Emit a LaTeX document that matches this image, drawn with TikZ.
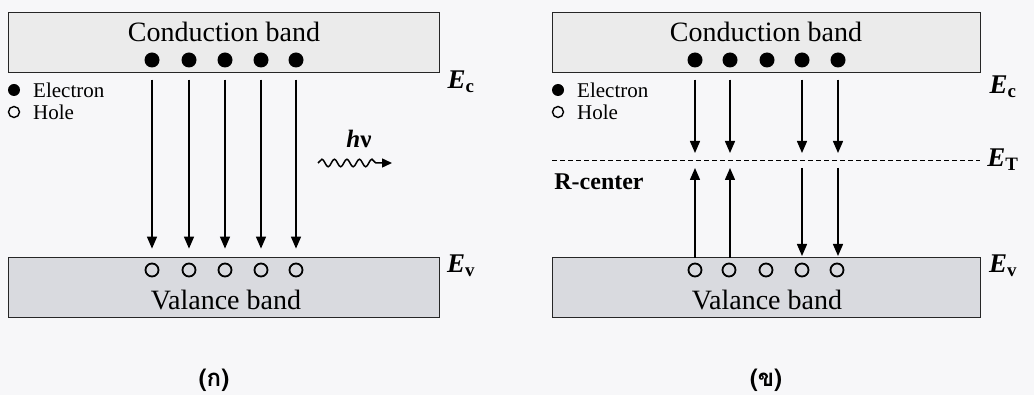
\documentclass[tikz,border=0pt]{standalone}
\usepackage{fontspec}
\setmainfont{Liberation Serif}
\newfontfamily\thaifont[Script=Thai]{Loma}
\usetikzlibrary{arrows.meta,decorations.pathmorphing}
\definecolor{cbfill}{HTML}{EBEBEB}
\definecolor{vbfill}{HTML}{D9DADF}
\definecolor{bgc}{HTML}{F7F7F9}
\tikzset{
  bandbox/.style={draw=black!85, line width=1pt, minimum width=431pt, minimum height=60pt, inner sep=0pt},
  bandtext/.style={font=\fontsize{28}{30}\selectfont, inner sep=0pt},
  elec/.style={circle, fill=black, minimum size=15pt, inner sep=0pt},
  hole/.style={circle, draw=black, line width=1.8pt, minimum size=13pt, inner sep=0pt},
  legtext/.style={font=\fontsize{21}{23}\selectfont, anchor=west, inner sep=0pt},
  elabel/.style={font=\fontsize{27}{29}\selectfont\bfseries\itshape, inner sep=0pt},
  arr/.style={line width=1.5pt, -{Triangle[length=12pt,width=10pt]}},
  caption/.style={font=\fontsize{24}{26}\selectfont\thaifont\bfseries, inner sep=0pt}
}
\begin{document}
\begin{tikzpicture}[x=1pt,y=-1pt]
\useasboundingbox (0,0) rectangle (1034,395);
\fill[bgc] (0,0) rectangle (1034,395);

% ===== Left panel =====
\node[bandbox, fill=cbfill] (cbL) at (223.5,42.5) {};
\node[bandtext] (cbLt) at (224,32) {Conduction band};
\node[bandbox, fill=vbfill] (vbL) at (223.5,287.5) {};
\node[bandtext] (vbLt) at (226,300) {Valance band};
\foreach \i/\x in {1/152,2/189,3/225,4/261,5/296}{
  \node[elec] (eL\i) at (\x,60) {};
  \node[hole] (hL\i) at (\x,270) {};
  \draw[arr, shorten <=12pt, shorten >=14pt] (eL\i) -- (hL\i);
}
\node[elec, minimum size=12pt] (legeL) at (14,90) {};
\node[legtext] (legeLt) at (33,90) {Electron};
\node[hole, minimum size=11pt, line width=1.4pt] (leghL) at (14,112) {};
\node[legtext] (leghLt) at (33,112) {Hole};
\node[elabel] (EcL) at (461,82) {E\textsubscript{\upshape c}};
\node[elabel] (EvL) at (461,266) {E\textsubscript{\upshape v}};
\node[font=\fontsize{25}{27}\selectfont\bfseries\itshape, inner sep=0pt] (hv) at (359,139) {h\upshape ν};
\coordinate (wA) at (318,163);
\coordinate (wB) at (392,163);
\draw[line width=1.5pt, -{Triangle[length=10pt,width=9pt]}, decorate,
  decoration={snake, amplitude=3.8pt, segment length=12.5pt, post length=11pt}] (wA) -- (wB);
\node[caption] (capL) at (214,380) {(ก)};

% ===== Right panel =====
\node[bandbox, fill=cbfill, minimum width=428pt] (cbR) at (766,42.5) {};
\node[bandtext] (cbRt) at (766,32) {Conduction band};
\node[bandbox, fill=vbfill, minimum width=428pt] (vbR) at (766,287.5) {};
\node[bandtext] (vbRt) at (767,300) {Valance band};
\foreach \i/\x in {1/695,2/730,3/767,4/802,5/838}{
  \node[elec] (eR\i) at (\x,60) {};
}
\foreach \i/\x in {1/695,2/729,3/766,4/802,5/837}{
  \node[hole] (hR\i) at (\x,270) {};
}
\node[elec, minimum size=12pt] (legeR) at (558,90) {};
\node[legtext] (legeRt) at (577,90) {Electron};
\node[hole, minimum size=11pt, line width=1.4pt] (leghR) at (558,112) {};
\node[legtext] (leghRt) at (577,112) {Hole};
\coordinate (etA) at (552,161);
\coordinate (etB) at (980,161);
\draw[line width=1pt, dash pattern=on 5pt off 3pt] (etA) -- (etB);
\node[elabel] (EcR) at (1003,87) {E\textsubscript{\upshape c}};
\node[elabel] (ETR) at (1003,160) {E\textsubscript{\upshape T}};
\node[elabel] (EvR) at (1003,266) {E\textsubscript{\upshape v}};
\node[font=\fontsize{24}{26}\selectfont\bfseries, inner sep=0pt] (rc) at (599,182) {R-center};
\foreach \i/\x in {1/695,2/730,4/802,5/838}{
  \coordinate (t\i) at (\x,161);
  \draw[arr, shorten <=12pt, shorten >=8pt] (eR\i) -- (t\i);
}
\foreach \i/\x in {1/695,2/730}{
  \coordinate (b\i) at (\x,258);
  \draw[arr, shorten >=7pt] (b\i) -- (t\i);
}
\draw[arr, shorten <=7pt, shorten >=14pt] (t4) -- (t4 |- hR4.center);
\draw[arr, shorten <=7pt, shorten >=14pt] (t5) -- (t5 |- hR5.center);
\node[caption] (capR) at (766,380) {(ข)};
\end{tikzpicture}
\end{document}
